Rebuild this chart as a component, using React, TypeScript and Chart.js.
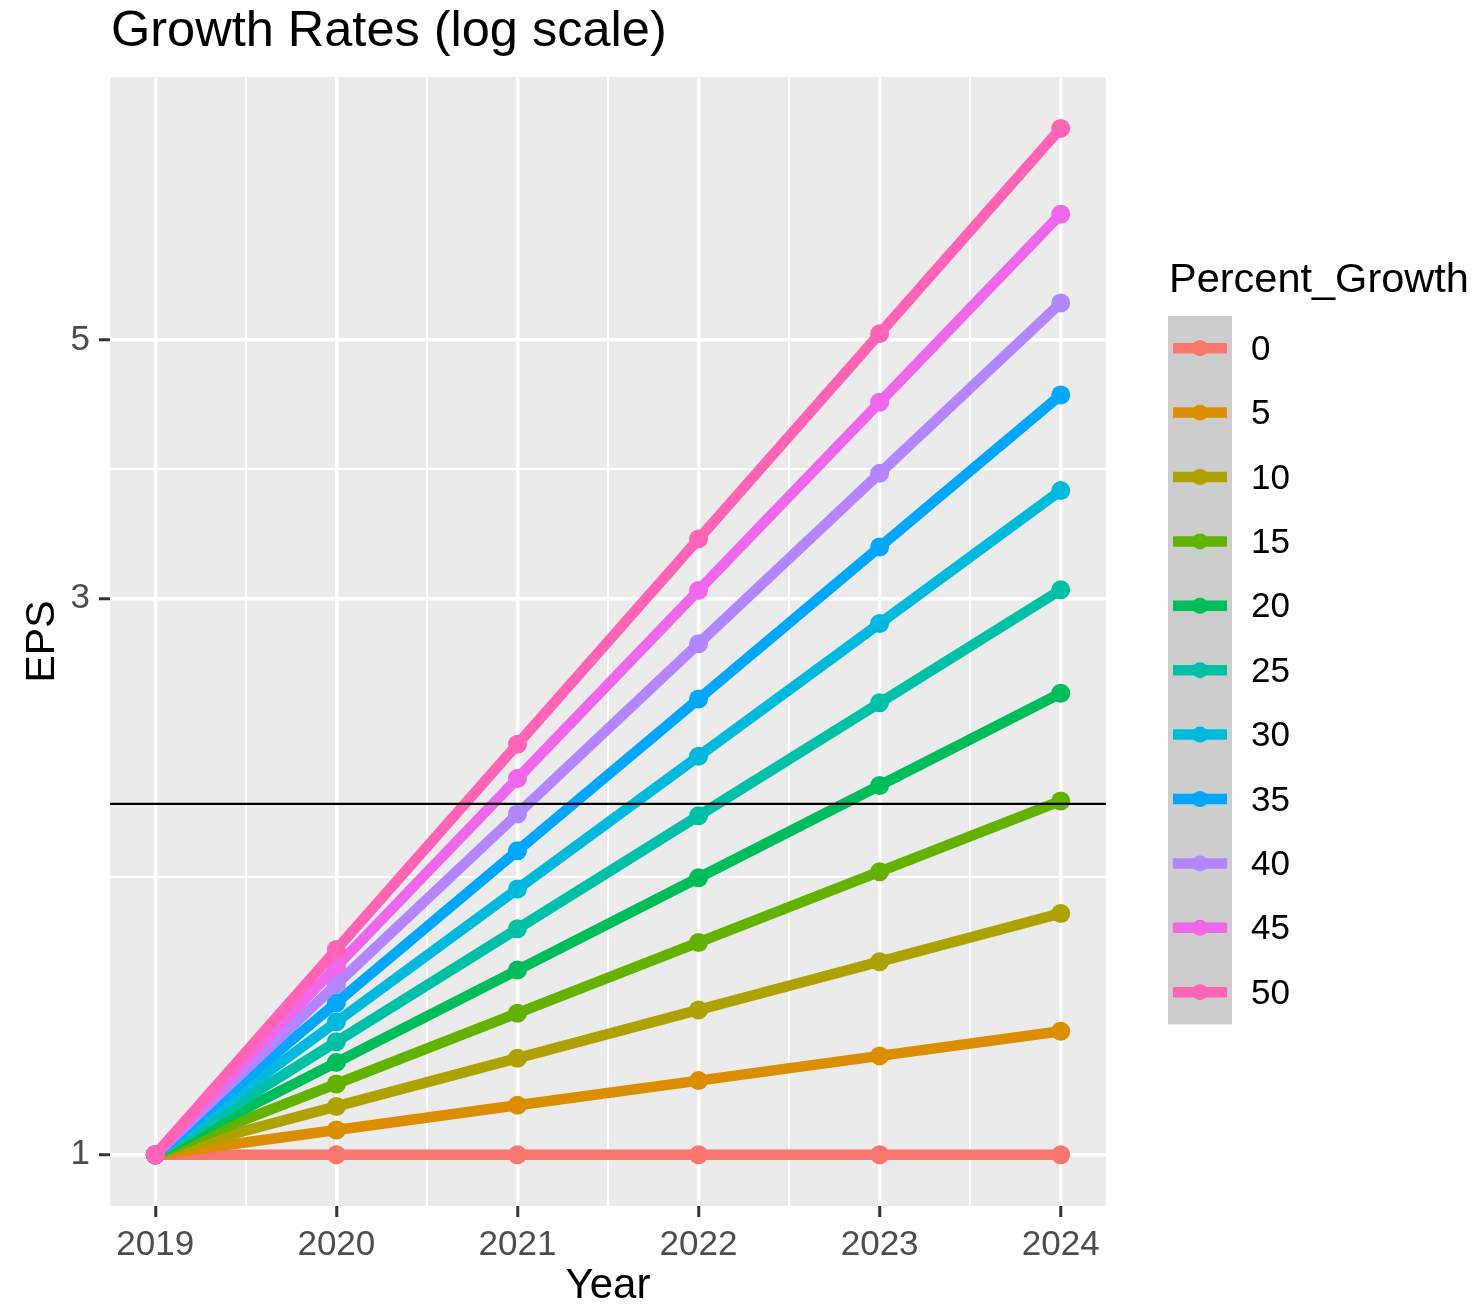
import React, { useEffect, useRef } from "react";
import { Chart, registerables } from "chart.js";

Chart.register(...registerables);

const TITLE = "Growth Rates (log scale)";
const X_TITLE = "Year";
const Y_TITLE = "EPS";
const LEGEND_TITLE = "Percent_Growth";

const YEARS = [2019, 2020, 2021, 2022, 2023, 2024];
const X_MINOR = [2019.5, 2020.5, 2021.5, 2022.5, 2023.5];
const Y_MAJOR = [1, 3, 5];
const Y_MINOR = [1.732, 3.873];
const HLINE_VALUE = 2;

const GROWTH_LABELS = ["0", "5", "10", "15", "20", "25", "30", "35", "40", "45", "50"];
const COLORS = [
  "#F8766D", "#DB8E00", "#AEA200", "#64B200", "#00BD5C", "#00C1A7",
  "#00BADE", "#00A6FF", "#B385FF", "#EF67EB", "#FF63B6",
];

const EPS_0 = [1, 1, 1, 1, 1, 1];
const EPS_5 = [1, 1.05, 1.1025, 1.1576, 1.2155, 1.2763];
const EPS_10 = [1, 1.1, 1.21, 1.331, 1.4641, 1.6105];
const EPS_15 = [1, 1.15, 1.3225, 1.5209, 1.749, 2.0114];
const EPS_20 = [1, 1.2, 1.44, 1.728, 2.0736, 2.4883];
const EPS_25 = [1, 1.25, 1.5625, 1.9531, 2.4414, 3.0518];
const EPS_30 = [1, 1.3, 1.69, 2.197, 2.8561, 3.7129];
const EPS_35 = [1, 1.35, 1.8225, 2.4604, 3.3215, 4.484];
const EPS_40 = [1, 1.4, 1.96, 2.744, 3.8416, 5.3782];
const EPS_45 = [1, 1.45, 2.1025, 3.0486, 4.4205, 6.4097];
const EPS_50 = [1, 1.5, 2.25, 3.375, 5.0625, 7.5938];

const SERIES = [EPS_0, EPS_5, EPS_10, EPS_15, EPS_20, EPS_25, EPS_30, EPS_35, EPS_40, EPS_45, EPS_50];

const X_MIN = 2018.75;
const X_MAX = 2024.25;
const Y_MIN = 0.9036;
const Y_MAX = 8.405;

const FONT = "'Liberation Sans', Arial, sans-serif";
const W = 1481;
const H = 1305;

const isMajorX = (v: number) => YEARS.includes(v);
const isMajorY = (v: number) => Y_MAJOR.includes(v);

export default function App() {
  const ref = useRef<HTMLCanvasElement | null>(null);

  useEffect(() => {
    document.body.style.margin = "0";
    const canvas = ref.current;
    if (!canvas) return;

    const panelPlugin = {
      id: "panelBg",
      beforeDraw(chart: any) {
        const { ctx, chartArea: a } = chart;
        ctx.save();
        ctx.fillStyle = "#EBEBEB";
        ctx.fillRect(a.left, a.top, a.right - a.left, a.bottom - a.top);
        ctx.restore();
      },
    };

    const hlinePlugin = {
      id: "hline",
      afterDatasetsDraw(chart: any) {
        const { ctx, chartArea: a } = chart;
        const y = chart.scales.y.getPixelForValue(HLINE_VALUE);
        ctx.save();
        ctx.strokeStyle = "#000000";
        ctx.lineWidth = 2.2;
        ctx.beginPath();
        ctx.moveTo(a.left, y);
        ctx.lineTo(a.right, y);
        ctx.stroke();
        ctx.restore();
      },
    };

    const textPlugin = {
      id: "texts",
      afterDraw(chart: any) {
        const { ctx } = chart;
        ctx.save();
        // title
        ctx.fillStyle = "#000000";
        ctx.font = `50.5px ${FONT}`;
        ctx.textAlign = "left";
        ctx.textBaseline = "middle";
        ctx.fillText(TITLE, 111, 32);

        // legend title
        ctx.font = `41.5px ${FONT}`;
        ctx.fillText(LEGEND_TITLE, 1169, 281);

        // legend keys
        const keyLeft = 1168;
        const keyW = 64;
        const keyTop = 316;
        const keyH = 64.4;
        ctx.fillStyle = "#CDCDCD";
        ctx.fillRect(keyLeft, keyTop, keyW, keyH * GROWTH_LABELS.length);
        chart.data.datasets.forEach((ds: any, i: number) => {
          const cy = keyTop + keyH * i + keyH / 2;
          ctx.strokeStyle = ds.borderColor;
          ctx.lineWidth = 10.5;
          ctx.lineCap = "butt";
          ctx.beginPath();
          ctx.moveTo(keyLeft + 5, cy);
          ctx.lineTo(keyLeft + keyW - 5, cy);
          ctx.stroke();
          ctx.fillStyle = ds.borderColor;
          ctx.beginPath();
          ctx.arc(keyLeft + keyW / 2, cy, 8, 0, Math.PI * 2);
          ctx.fill();
          ctx.fillStyle = "#000000";
          ctx.font = `35px ${FONT}`;
          ctx.textAlign = "left";
          ctx.textBaseline = "middle";
          ctx.fillText(ds.label, 1251, cy + 2);
        });
        ctx.restore();
      },
    };

    const datasets = SERIES.map((vals, i) => ({
      label: GROWTH_LABELS[i],
      data: YEARS.map((yr, j) => ({ x: yr, y: vals[j] })),
      borderColor: COLORS[i],
      backgroundColor: COLORS[i],
      borderWidth: 10.5,
      borderCapStyle: "butt",
      borderJoinStyle: "round",
      pointRadius: 9.5,
      pointBorderWidth: 0,
      pointBackgroundColor: COLORS[i],
      pointHoverRadius: 9.5,
      fill: false,
      tension: 0,
      order: SERIES.length - i,
    }));

    const chart = new Chart(canvas, {
      type: "line",
      data: { datasets: datasets as any },
      plugins: [panelPlugin, hlinePlugin, textPlugin],
      options: {
        animation: false,
        responsive: false,
        devicePixelRatio: 1,
        events: [],
        layout: { padding: { top: 77, right: 375, bottom: 0, left: 0 } },
        plugins: {
          legend: { display: false },
          tooltip: { enabled: false },
          title: { display: false },
        },
        scales: {
          x: {
            type: "linear",
            min: X_MIN,
            max: X_MAX,
            afterBuildTicks: (s: any) => {
              s.ticks = [...YEARS, ...X_MINOR].sort((a, b) => a - b).map((v) => ({ value: v }));
            },
            afterFit: (s: any) => {
              s.height = H - 1206;
            },
            border: { display: false },
            grid: {
              color: "#FFFFFF",
              lineWidth: (c: any) => (c.tick && isMajorX(c.tick.value) ? 3.5 : 2),
              tickColor: (c: any) => (c.tick && isMajorX(c.tick.value) ? "#333333" : "rgba(0,0,0,0)"),
              tickWidth: 3,
              tickLength: 11,
              drawTicks: true,
            },
            ticks: {
              autoSkip: false,
              maxRotation: 0,
              padding: 7,
              color: "#4D4D4D",
              font: { family: FONT, size: 35 },
              callback: (v: any) => (isMajorX(Number(v)) ? String(v) : ""),
            },
            title: {
              display: true,
              text: X_TITLE,
              color: "#000000",
              font: { family: FONT, size: 42, lineHeight: 1 },
              padding: { top: 0, bottom: -2 },
            },
          },
          y: {
            type: "logarithmic",
            min: Y_MIN,
            max: Y_MAX,
            afterBuildTicks: (s: any) => {
              s.ticks = [...Y_MAJOR, ...Y_MINOR].sort((a, b) => a - b).map((v) => ({ value: v }));
            },
            afterFit: (s: any) => {
              s.width = 110;
            },
            border: { display: false },
            grid: {
              color: "#FFFFFF",
              lineWidth: (c: any) => (c.tick && isMajorY(c.tick.value) ? 3.5 : 2),
              tickColor: (c: any) => (c.tick && isMajorY(c.tick.value) ? "#333333" : "rgba(0,0,0,0)"),
              tickWidth: 3,
              tickLength: 11,
              drawTicks: true,
            },
            ticks: {
              autoSkip: false,
              padding: 9,
              color: "#4D4D4D",
              font: { family: FONT, size: 35 },
              callback: (v: any) => (isMajorY(Number(v)) ? String(v) : ""),
            },
            title: {
              display: true,
              text: Y_TITLE,
              color: "#000000",
              font: { family: FONT, size: 41, lineHeight: 1 },
              padding: { top: 22, bottom: 0 },
            },
          },
        },
      } as any,
    });

    return () => {
      chart.destroy();
    };
  }, []);

  return (
    <div style={{ width: W, height: H, background: "#FFFFFF" }}>
      <canvas ref={ref} width={W} height={H} style={{ display: "block", width: W, height: H }} />
    </div>
  );
}
